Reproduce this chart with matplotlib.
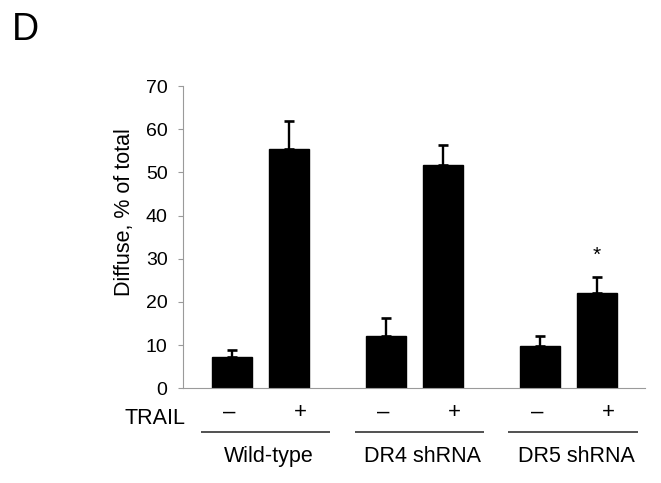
import matplotlib
matplotlib.use('Agg')
import matplotlib.pyplot as plt
import numpy as np

plt.rcParams['font.family'] = ['Liberation Sans', 'DejaVu Sans']

# data
groups = ['Wild-type', 'DR4 shRNA', 'DR5 shRNA']
trail = ['\u2013', '+', '\u2013', '+', '\u2013', '+']
means = [7.3, 55.5, 12.2, 51.6, 9.9, 22.0]
errors = [1.5, 6.5, 4.1, 4.7, 2.2, 3.7]
star_bar = 5  # index of the bar marked with *
yticks = [0, 10, 20, 30, 40, 50, 60, 70]

# bar layout: two bars per group, gap between groups
x = np.array([0, 1, 2.7, 3.7, 5.4, 6.4])
width = 0.71

fig = plt.figure(figsize=(6.61, 4.83), dpi=100)
ax = fig.add_axes([0.2761, 0.1961, 0.6997, 0.6258])

ax.bar(x, means, width=width, color='black', edgecolor='black', zorder=2)
ax.errorbar(x, means, yerr=[np.zeros(len(errors)), errors], fmt='none',
            ecolor='black', elinewidth=1.7, capsize=3.6, capthick=1.9, zorder=3)

ax.set_xlim(-0.868, 7.246)
ax.set_ylim(0, 70)
ax.set_yticks(yticks)
ax.set_yticklabels([str(t) for t in yticks], fontsize=14)
ax.set_xticks([])

for side in ['top', 'right']:
    ax.spines[side].set_visible(False)
for side in ['left', 'bottom']:
    ax.spines[side].set_color('#9a9a9a')
    ax.spines[side].set_linewidth(0.8)
ax.tick_params(axis='y', direction='out', length=3.8, width=0.8,
               color='#9a9a9a', pad=7)

ax.set_ylabel('Diffuse, % of total', fontsize=15.5)
ax.yaxis.set_label_coords(-0.103, 0.583)

# significance star
ax.text(x[star_bar], means[star_bar] + errors[star_bar] + 5.0, '*',
        ha='center', va='center', fontsize=15)

# TRAIL row
ax.text(-0.82, -6.9, 'TRAIL', ha='right', va='center', fontsize=15.5,
        clip_on=False)
for xi, s in zip(x, trail):
    off = 0.2 if s == '+' else -0.05
    ax.text(xi + off, -5.5, s, ha='center', va='center', fontsize=16,
            clip_on=False)

# group lines and labels
for g, name in enumerate(groups):
    x0, x1 = x[2 * g], x[2 * g + 1]
    ax.plot([x0 - 0.55, x1 + 0.72], [-10.1, -10.1], color='#222222',
            linewidth=1.1, clip_on=False, solid_capstyle='butt')
    ax.text((x0 + x1) / 2 + 0.15, -15.8, name, ha='center', va='center',
            fontsize=15.5, clip_on=False)

fig.text(12 / 661, 1 - 40 / 483, 'D', ha='left', va='baseline', fontsize=27)

plt.savefig('out.png', dpi=100)
